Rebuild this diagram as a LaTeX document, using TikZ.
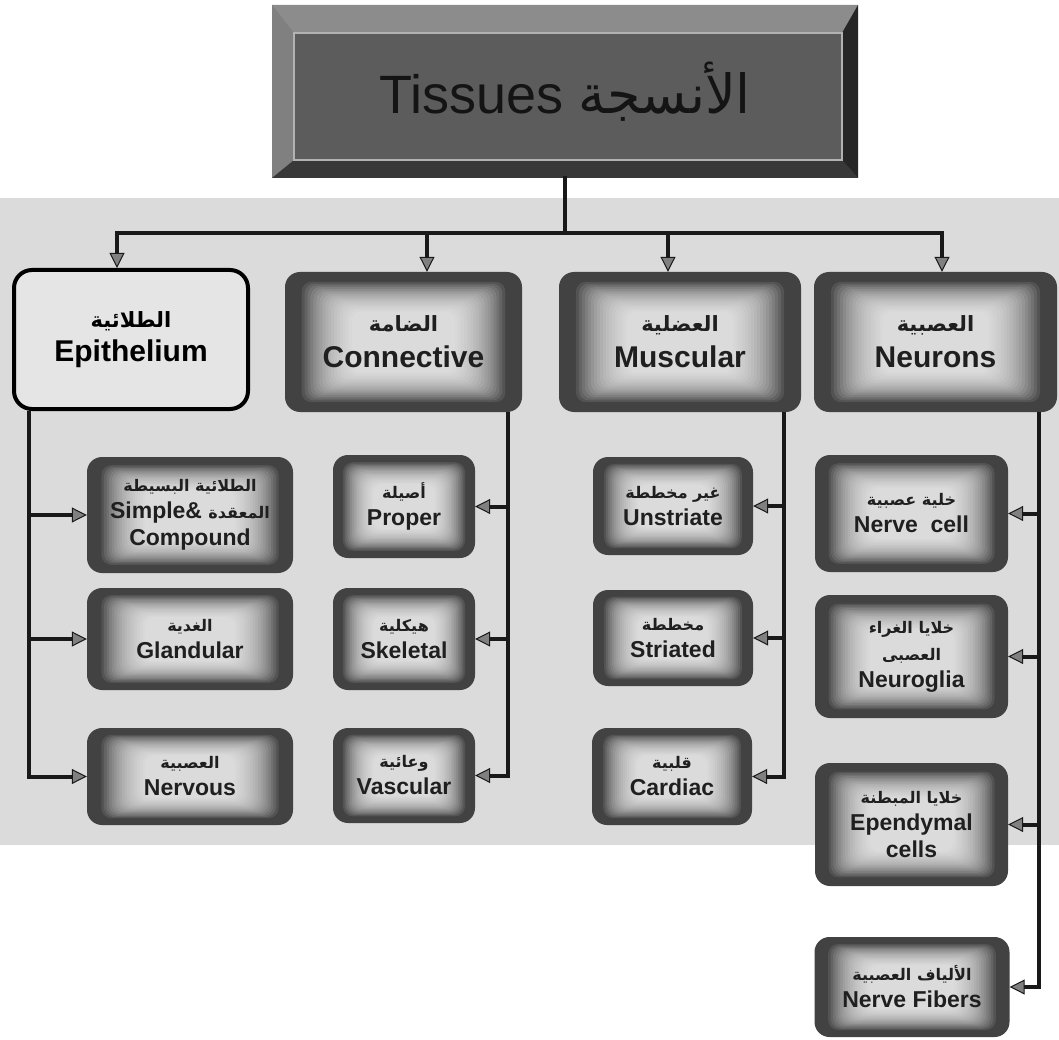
\documentclass[tikz,border=0pt]{standalone}
\usepackage{fontspec}
\setmainfont{Liberation Sans}
\newfontfamily\arabicfont[Script=Arabic]{DejaVu Sans}
\TeXXeTstate=1
\usetikzlibrary{arrows.meta,calc}
\newcommand\artxt[1]{{\arabicfont\beginR #1\endR}}
\newcommand\bigar[1]{{\fontsize{21}{36}\selectfont\artxt{#1}}}
\newcommand\smar[1]{{\fontsize{16}{27}\selectfont\artxt{#1}}}
\tikzset{
  glowbase/.style={rounded corners=15pt, fill=black!74, text=black!88, align=center,
    inner sep=1pt,
    path picture={
      \foreach \i in {0,...,17}{
        \fill[white,opacity=0.095,rounded corners=10pt]
          ($(path picture bounding box.north west)!{0.07+0.0125*\i}!(path picture bounding box.south east)$)
          rectangle
          ($(path picture bounding box.south east)!{0.07+0.0125*\i}!(path picture bounding box.north west)$);
      }}},
  glow/.style={glowbase, font=\bfseries\fontsize{23}{27}\selectfont},
  glowbig/.style={glowbase, font=\bfseries\fontsize{30}{36}\selectfont},
  lightbox/.style={rounded corners=18pt, fill=black!10, draw=black, line width=4pt,
    align=center, font=\bfseries\fontsize{30}{34}\selectfont, text=black, inner sep=1pt},
  titlebox/.style={fill=black!48, text=black!92, inner sep=0pt,
    font=\fontsize{54}{60}\selectfont,
    path picture={
      \coordinate (tnw) at (path picture bounding box.north west);
      \coordinate (tne) at (path picture bounding box.north east);
      \coordinate (tsw) at (path picture bounding box.south west);
      \coordinate (tse) at (path picture bounding box.south east);
      \coordinate (inw) at ([shift={(22pt,-28pt)}]tnw);
      \coordinate (ine) at ([shift={(-16pt,-28pt)}]tne);
      \coordinate (isw) at ([shift={(22pt,18pt)}]tsw);
      \coordinate (ise) at ([shift={(-16pt,18pt)}]tse);
      \fill[black!45] (tnw) -- (tne) -- (ine) -- (inw) -- cycle;
      \fill[black!50] (tnw) -- (inw) -- (isw) -- (tsw) -- cycle;
      \fill[black!78] (tsw) -- (isw) -- (ise) -- (tse) -- cycle;
      \fill[black!85] (tne) -- (tse) -- (ise) -- (ine) -- cycle;
      \fill[black!64] (inw) rectangle (ise);
      \draw[black!30, line width=2.5pt] (inw) rectangle (ise);
    }},
  line/.style={line width=4pt, draw=black!90, line cap=rect},
  arr/.style={line width=4pt, draw=black!90,
    -{Triangle[length=15pt,width=15pt,fill=black!50,line width=1pt]}},
}
\begin{document}
\begin{tikzpicture}[x=1pt,y=-1pt]
\useasboundingbox (0,0) rectangle (1059,1040);
\fill[white] (0,0) rectangle (1059,1040);
\fill[black!14] (0,198) rectangle (1059,845);

% title
\node[titlebox, minimum width=586pt, minimum height=173pt] (title) at (565,91.5)
  {Tissues \artxt{الأنسجة}};

% level 1
\node[lightbox, minimum width=234pt, minimum height=139pt] (epi) at (131,339.5)
  {\bigar{الطلائية}\\Epithelium};
\node[glowbig, minimum width=237pt, minimum height=140pt] (con) at (403.5,342)
  {\bigar{الضامة}\\Connective};
\node[glowbig, minimum width=242pt, minimum height=140pt] (mus) at (680,342)
  {\bigar{العضلية}\\Muscular};
\node[glowbig, minimum width=243pt, minimum height=140pt] (neu) at (935.5,342)
  {\bigar{العصبية}\\Neurons};

% level 2 - epithelium
\node[glow, minimum width=206pt, minimum height=116pt] (simple) at (190,515)
  {\smar{الطلائية البسيطة}\\Simple\& \smar{المعقدة}\\Compound};
\node[glow, minimum width=206pt, minimum height=102pt] (gland) at (190,639)
  {\smar{الغدية}\\Glandular};
\node[glow, minimum width=206pt, minimum height=97pt] (nerv) at (190,776.5)
  {\smar{العصبية}\\Nervous};
% connective
\node[glow, minimum width=142pt, minimum height=103pt] (proper) at (404,506.5)
  {\smar{أصيلة}\\Proper};
\node[glow, minimum width=142pt, minimum height=102pt] (skel) at (404,639)
  {\smar{هيكلية}\\Skeletal};
\node[glow, minimum width=142pt, minimum height=95pt] (vasc) at (404,775.5)
  {\smar{وعائية}\\Vascular};
% muscular
\node[glow, minimum width=160pt, minimum height=98pt] (unstr) at (673,506)
  {\smar{غير مخططة}\\Unstriate};
\node[glow, minimum width=160pt, minimum height=96pt] (stri) at (673,638)
  {\smar{مخططة}\\Striated};
\node[glow, minimum width=160pt, minimum height=97pt] (card) at (672,776.5)
  {\smar{قلبية}\\Cardiac};
% neurons
\node[glow, minimum width=193pt, minimum height=117pt] (ncell) at (911.5,513.5)
  {\smar{خلية عصبية}\\Nerve\ \ cell};
\node[glow, minimum width=193pt, minimum height=123pt] (glia) at (911.5,656.5)
  {\smar{خلايا الغراء}\\\smar{العصبى}\\Neuroglia};
\node[glow, minimum width=193pt, minimum height=123pt] (epen) at (911.5,824.5)
  {\smar{خلايا المبطنة}\\Ependymal\\cells};
\node[glow, minimum width=195pt, minimum height=100pt] (fib) at (912,987)
  {\smar{الألياف العصبية}\\Nerve Fibers};

% connectors
\coordinate (bar) at (565,233);
\coordinate (a1) at (117,233);
\coordinate (a2) at (427,233);
\coordinate (a3) at (668,233);
\coordinate (a4) at (942,233);
\coordinate (ex) at (29,0);
\coordinate (cx) at (508,0);
\coordinate (mx) at (784,0);
\coordinate (nx) at (1039,0);

\draw[line] (title.south) -- (bar);
\draw[line] (a1) -- (a4);
\draw[arr] (a1) -- (a1 |- epi.north);
\draw[arr] (a2) -- (a2 |- con.north);
\draw[arr] (a3) -- (a3 |- mus.north);
\draw[arr] (a4) -- (a4 |- neu.north);

\draw[arr] (epi.south -| ex) |- (nerv.west);
\draw[arr] (ex |- simple.west) -- (simple.west);
\draw[arr] (ex |- gland.west) -- (gland.west);

\draw[arr] (con.south -| cx) |- (vasc.east);
\draw[arr] (cx |- proper.east) -- (proper.east);
\draw[arr] (cx |- skel.east) -- (skel.east);

\draw[arr] (mus.south -| mx) |- (card.east);
\draw[arr] (mx |- unstr.east) -- (unstr.east);
\draw[arr] (mx |- stri.east) -- (stri.east);

\draw[arr] (neu.south -| nx) |- (fib.east);
\draw[arr] (nx |- ncell.east) -- (ncell.east);
\draw[arr] (nx |- glia.east) -- (glia.east);
\draw[arr] (nx |- epen.east) -- (epen.east);
\end{tikzpicture}
\end{document}
